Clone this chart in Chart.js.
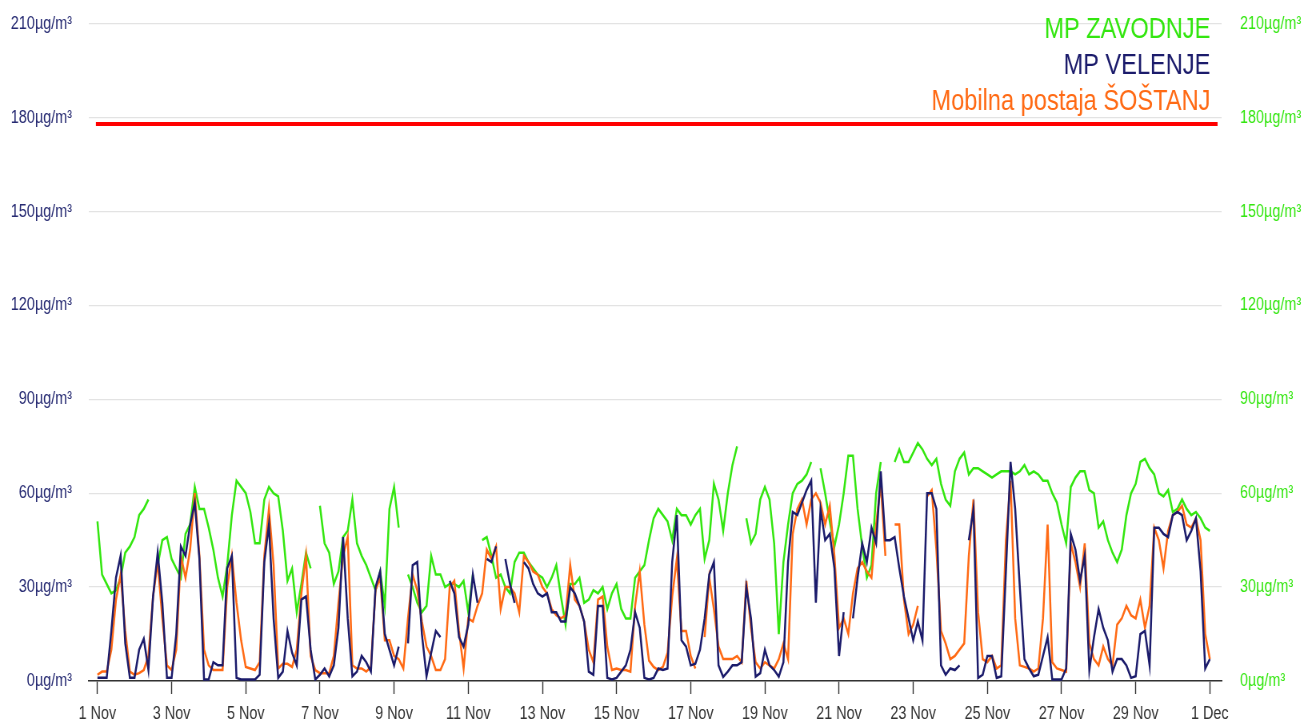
<!DOCTYPE html>
<html>
<head>
<meta charset="utf-8">
<script src="https://cdn.jsdelivr.net/npm/chart.js@4.4.1/dist/chart.umd.min.js"></script>
<style>
  html, body { margin: 0; padding: 0; background: #ffffff; overflow: hidden; }
  #wrap { position: absolute; left: 0; top: -10px; width: 1630px; height: 730px; transform: scaleX(0.8); transform-origin: 0 0; }
  canvas { display: block; }
</style>
</head>
<body>
<div id="wrap"><canvas id="c" width="1630" height="730"></canvas></div>
<script>
// ---- data (3-hourly samples starting 1 Nov 00:00) ----
const STEP_HOURS = 3;
const SERIES_NAMES = ['MP ZAVODNJE', 'MP VELENJE', 'Mobilna postaja ŠOŠTANJ'];
const TICK_LABELS = ['1 Nov','3 Nov','5 Nov','7 Nov','9 Nov','11 Nov','13 Nov','15 Nov','17 Nov','19 Nov','21 Nov','23 Nov','25 Nov','27 Nov','29 Nov','1 Dec'];
const Y_TICKS = [0, 30, 60, 90, 120, 150, 180, 210];
const LIMIT = 178;

const zavodnje = [
  51,34,31,28,29,33,41,43,46,53,55,58,null,37,45,46,39,36,33,47,50,62,55,55,49,42,33,27,37,53,64,62,
  60,54,44,44,58,62,60,59,48,32,36,22,31,41,36,null,56,44,41,31,35,46,48,58,44,40,37,33,29,35,24,55,
  62,49,null,34,30,25,22,24,40,34,34,30,31,31,30,32,22,34,null,45,46,40,33,34,30,28,38,41,41,38,36,34,
  33,30,33,37,27,18,31,31,33,25,26,29,28,30,23,28,31,23,20,20,33,35,37,45,52,55,53,51,45,55,53,53,
  50,53,55,39,45,63,58,48,60,69,75,null,52,44,47,58,62,58,44,15,38,50,60,63,64,66,70,null,68,60,51,43,
  50,60,72,72,55,43,33,37,60,70,null,null,70,74,70,70,73,76,74,71,69,71,63,58,56,67,71,73,66,68,68,67,
  66,65,66,67,67,67,66,67,69,66,67,66,64,64,60,57,50,44,62,65,67,67,61,60,49,51,45,41,38,42,53,60,
  63,70,71,68,66,60,59,61,54,55,58,55,53,54,52,49,48
];
const velenje = [
  1,1,1,16,33,40,12,1,1,10,13.5,3.5,27,41,25,1,1,15,43,40,50,57,39,0.5,0.5,6,5,5,36,40,1,0.5,
  0.5,0.5,0.5,2,38,50,20,1,3,16,9,5,26,27,10,0.5,2,4,1.5,5,17,46,20,1.5,3,8,6,3,30,35,15,10,
  5,11,null,12,37,38,15,1.5,9,16,14,null,32,28,14,11,18,34,25,null,39,38,43,null,39,31,25,null,38,36,31,28,
  27,28,22,22,19,19,30,28,24,19,3,2,24,24,1,0.5,1,3,5,10,22,17,1,0.5,1,4,3.5,4,38,53,13,11,
  5,5.5,10,20,34,38,5,1.3,3,5,5,6,30,20,1.4,2.5,10,5,3.5,1.4,6,38,54,53,57,61,64,25,55,45,47,36,
  8,22,null,20,33,44,38,49,44,67,45,45,46,36,27,20,13,19,13,60,60,55,5,2,4,3.5,5,null,45,55,1,2,
  8,8,1,1.5,35,70,55,30,7,4,1.5,2,8,14,0.5,0.5,0.5,4,47,42,32,40,3.5,14,23,17,13,3,7,7,5,1,
  1.5,15,16,5,49,49,47,46,53,54,53,45,48,52,35,4,7
];
const sostanj = [
  2,3,3,10,26,34,16,3,2,2.5,3.5,8,27,38,20,5,3.5,10,40,33,42,60,40,10,5,3.5,3.5,3.5,30,40,25,13,
  4.5,4,3.5,6,40,55,37,4,5.5,5.5,4.5,10,28,40,8,3.5,2.5,2.5,2.5,8,25,40,46,5,4,4,3,4.5,29,33,13,13,
  8,7,4,20,34,29,19,11,8,3.5,3.5,7,30,32,16,4,20,19,24,28,42,39,43,23,30,30,28,22,40,38,35,34,
  30,28,23,21,20,21,37,26,24,19,10,6,26,27,11,3.5,4,3.5,3.5,3,24,35,18,6.5,4.5,3.5,4.5,9,27,39,16,16,
  8,4,null,14,33,23,11,7,7,7,8,6,32,17,6,4,6,5,4,7,12,7,47,55,58,50,58,60,57,50,56,40,
  17,20,15,28,36,38,35,33,50,63,40,null,50,50,26,15,18,24,null,59,61,42,16,12,7,8,10,12,40,58,22,7,
  6,8,4,5,45,64,20,5,4.5,4,3,4,20,50,6,4,3.5,3,44,38,30,44,12,7,5,11,7,5,18,20,24,21,
  20,26,17,24,49,45,36,48,53,54,56,50,49,52,45,15,7
];

const COLORS = ['#33e60f', '#1b1b6b', '#ff6a14'];
const LIMIT_COLOR = '#ff0000';

function toPoints(values) {
  return values.map((v, i) => ({ x: i * STEP_HOURS, y: v }));
}
const TICK_HOURS = TICK_LABELS.map((_, i) => i * 48);

const legendText = {
  id: 'legendText',
  afterDraw(chart) {
    const { ctx, chartArea } = chart;
    ctx.save();
    ctx.font = '29.5px "Liberation Sans", Arial, sans-serif';
    ctx.textAlign = 'right';
    ctx.textBaseline = 'alphabetic';
    SERIES_NAMES.forEach((name, i) => {
      ctx.fillStyle = COLORS[i];
      ctx.fillText(name, chartArea.right - 14, chartArea.top + 14.5 + 36 * i);
    });
    ctx.restore();
  }
};

const tickFont = { family: '"Liberation Sans", Arial, sans-serif', size: 18 };

new Chart(document.getElementById('c'), {
  type: 'line',
  data: {
    datasets: [
      { label: SERIES_NAMES[1], data: toPoints(velenje), borderColor: COLORS[1], order: 1, yAxisID: 'y' },
      { label: SERIES_NAMES[2], data: toPoints(sostanj), borderColor: COLORS[2], order: 2, yAxisID: 'y' },
      { label: SERIES_NAMES[0], data: toPoints(zavodnje), borderColor: COLORS[0], order: 3, yAxisID: 'y' },
      { label: 'limit', data: [{ x: -1, y: LIMIT }, { x: 725, y: LIMIT }], borderColor: LIMIT_COLOR, borderWidth: 4, order: 0, yAxisID: 'y' }
    ]
  },
  options: {
    responsive: false,
    animation: false,
    devicePixelRatio: 1,
    layout: { padding: { top: 0, left: 0, right: 0, bottom: 0 } },
    elements: {
      point: { radius: 0 },
      line: { borderWidth: 2.5, tension: 0, fill: false }
    },
    spanGaps: false,
    plugins: { legend: { display: false }, tooltip: { enabled: false } },
    scales: {
      x: {
        type: 'linear',
        min: -5.6,
        max: 727.6,
        afterBuildTicks(scale) { scale.ticks = TICK_HOURS.map(v => ({ value: v })); },
        afterFit(scale) { scale.height = 39; },
        ticks: {
          autoSkip: false,
          maxRotation: 0,
          padding: 9,
          color: '#333333',
          font: tickFont,
          callback(value, index) { return TICK_LABELS[index]; }
        },
        grid: { drawOnChartArea: false, drawTicks: true, tickLength: 13, tickColor: '#333333', tickWidth: 1.4 },
        border: { color: '#333333', width: 1.4 }
      },
      y: {
        position: 'left',
        min: 0,
        max: 210,
        afterBuildTicks(scale) { scale.ticks = Y_TICKS.map(v => ({ value: v })); },
        afterFit(scale) { scale.width = 111; },
        ticks: { padding: 21, color: '#262a72', font: tickFont, callback: v => v + 'µg/m³' },
        grid: { color: '#e3e3e3', lineWidth: 1.3, drawTicks: false },
        border: { display: false }
      },
      y2: {
        position: 'right',
        min: 0,
        max: 210,
        afterBuildTicks(scale) { scale.ticks = Y_TICKS.map(v => ({ value: v })); },
        afterFit(scale) { scale.width = 103; },
        ticks: { padding: 23, color: COLORS[0], font: tickFont, callback: v => v + 'µg/m³' },
        grid: { display: false, drawTicks: false },
        border: { display: false }
      }
    }
  },
  plugins: [legendText]
});
</script>
</body>
</html>
